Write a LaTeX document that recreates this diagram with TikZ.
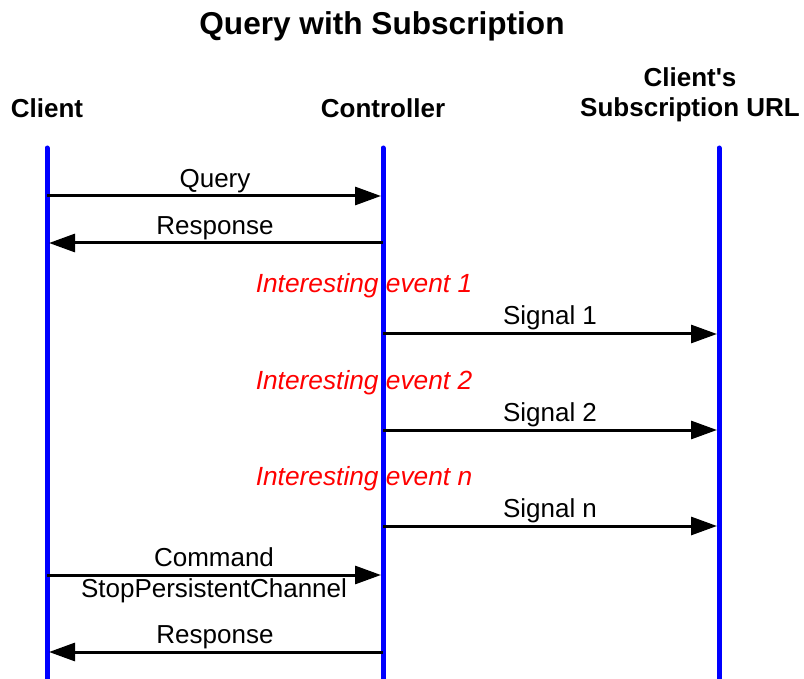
\documentclass[tikz,border=0pt]{standalone}
\usepackage{fontspec}
\setmainfont{Liberation Sans}[Ligatures=TeXOff]
\usetikzlibrary{arrows.meta}

\begin{document}
\begin{tikzpicture}[
    x=1pt, y=-1pt,
    every node/.style={font=\fontsize{26}{30}\selectfont, inner sep=0pt},
    titulo/.style={font=\fontsize{31.6}{36}\selectfont\bfseries, anchor=base},
    cabeca/.style={font=\fontsize{26}{30}\selectfont\bfseries, anchor=base, align=center},
    vida/.style={draw={rgb,255:red,0;green,0;blue,255}, line width=5pt, line cap=round},
    msg/.style={-{Triangle[length=26pt,width=18pt]}, line width=3pt, shorten >=2pt},
    rotulo/.style={anchor=base},
    evento/.style={anchor=base, text={rgb,255:red,255;green,0;blue,0}, font=\fontsize{26.3}{30}\selectfont\itshape}
]
\useasboundingbox (0,0) rectangle (804,679);

% Titulo e cabecalhos
\node[titulo] (title) at (382,35) {Query with Subscription};
\node[cabeca] (client) at (47,118) {Client};
\node[cabeca] (ctrl) at (383,118) {Controller};
\node[cabeca, anchor=base] (url) at (690,117) {Subscription URL};
\node[cabeca] (urltop) at (690,87) {Client's};

% Linhas de vida
\coordinate (clientTop) at (47,148);
\coordinate (clientBot) at (47,679);
\coordinate (ctrlTop) at (383,148);
\coordinate (ctrlBot) at (383,679);
\coordinate (urlTop) at (719,148);
\coordinate (urlBot) at (719,679);
\draw[vida] (clientBot) -- (clientTop);
\draw[vida] (ctrlBot) -- (ctrlTop);
\draw[vida] (urlBot) -- (urlTop);

% Query e resposta
\coordinate (q1) at (47,196);
\coordinate (q2) at (383,196);
\draw[msg] (q1) -- (q2);
\node[rotulo] (lq) at (215,188) {Query};

\coordinate (r1) at (383,243);
\coordinate (r2) at (47,243);
\draw[msg] (r1) -- (r2);
\node[rotulo] (lr) at (215,235) {Response};

% Eventos e sinais
\node[evento] (ev1) at (364,293) {Interesting event 1};
\coordinate (s1a) at (383,334);
\coordinate (s1b) at (719,334);
\draw[msg] (s1a) -- (s1b);
\node[rotulo] (ls1) at (550,325) {Signal 1};

\node[evento] (ev2) at (364,389) {Interesting event 2};
\coordinate (s2a) at (383,430);
\coordinate (s2b) at (719,430);
\draw[msg] (s2a) -- (s2b);
\node[rotulo] (ls2) at (550,421) {Signal 2};

\node[evento] (evn) at (364,485) {Interesting event n};
\coordinate (sna) at (383,526);
\coordinate (snb) at (719,526);
\draw[msg] (sna) -- (snb);
\node[rotulo] (lsn) at (550,517) {Signal n};

% Comando de parada
\coordinate (c1) at (47,575);
\coordinate (c2) at (383,575);
\draw[msg] (c1) -- (c2);
\node[rotulo] (lc) at (214,566) {Command};
\node[rotulo] (lstop) at (214,597) {StopPersistentChannel};

\coordinate (r3) at (383,652);
\coordinate (r4) at (47,652);
\draw[msg] (r3) -- (r4);
\node[rotulo] (lr2) at (215,643) {Response};

\end{tikzpicture}
\end{document}
